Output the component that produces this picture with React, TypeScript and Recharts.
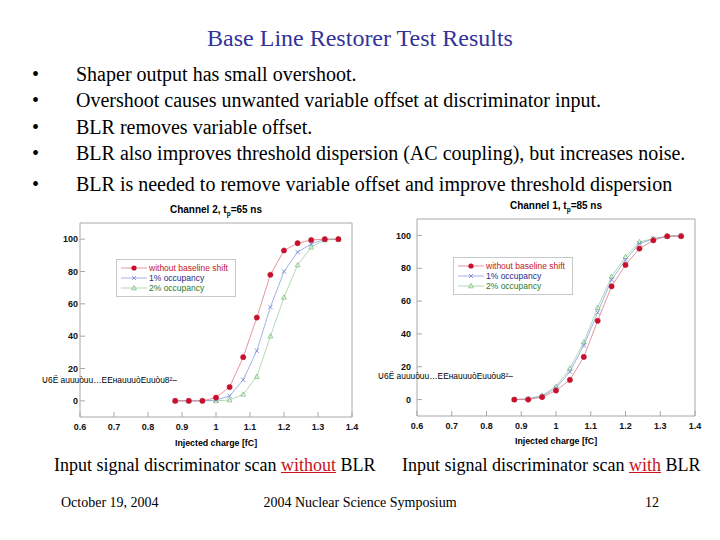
import React from "react";
import { LineChart, Line, XAxis, YAxis } from "recharts";

// injected charge [fC] for every scan point
const charges = [0.88, 0.92, 0.96, 1.0, 1.04, 1.08, 1.12, 1.16, 1.2, 1.24, 1.28, 1.32, 1.36];

// Channel 2, tp = 65 ns (without BLR)
const ch2Without = [0, 0, 0, 2, 8.5, 27, 51.5, 78, 93, 97.5, 99.5, 100, 100];
const ch2Occ1 = [0, 0, 0, 0.5, 3, 13, 31, 58, 80, 92, 97, 100, 100];
const ch2Occ2 = [0, 0, 0, 0, 0.5, 4, 15, 40, 64, 84, 95, 99.5, 100];

// Channel 1, tp = 85 ns (with BLR)
const ch1Without = [0, 0, 1.5, 5.5, 12, 26, 48, 69, 82, 92, 97, 99.5, 99.5];
const ch1Occ1 = [0, 0.5, 2, 7, 17, 33, 53, 73, 85, 95, 98, 99.5, 100];
const ch1Occ2 = [0, 0.5, 2.5, 8, 19, 35, 56, 75, 87, 96, 98, 99.5, 100];

const xTicks = [0.6, 0.7, 0.8, 0.9, 1.0, 1.1, 1.2, 1.3, 1.4];
const xMinor = [0.62, 0.64, 0.66, 0.68, 0.72, 0.74, 0.76, 0.78, 0.82, 0.84, 0.86, 0.88, 0.92, 0.94, 0.96, 0.98, 1.02, 1.04, 1.06, 1.08, 1.12, 1.14, 1.16, 1.18, 1.22, 1.24, 1.26, 1.28, 1.32, 1.34, 1.36, 1.38];
const yTicks = [0, 20, 40, 60, 80, 100];
const yMinor = [-5, 5, 10, 15, 25, 30, 35, 45, 50, 55, 65, 70, 75, 85, 90, 95, 105];

const RED = "#c8102e";
const RED_LINE = "#e07a80";
const BLUE_LINE = "#8b9ee0";
const GREEN_LINE = "#9fd09f";
const FRAME = "#a8a8a8";

const serif = "'Liberation Serif', 'Times New Roman', serif";
const sans = "'Liberation Sans', Arial, sans-serif";

const RedDot = (p: any) =>
  p.cx == null ? null : <circle key={`r${p.index}`} cx={p.cx} cy={p.cy} r={2.6} fill={RED} stroke={RED} strokeWidth={0.6} />;

const CrossDot = (p: any) =>
  p.cx == null ? null : (
    <g key={`c${p.index}`} stroke="#6f82d0" strokeWidth={0.8}>
      <line x1={p.cx - 2.2} y1={p.cy - 2.2} x2={p.cx + 2.2} y2={p.cy + 2.2} />
      <line x1={p.cx - 2.2} y1={p.cy + 2.2} x2={p.cx + 2.2} y2={p.cy - 2.2} />
    </g>
  );

const TriDot = (p: any) =>
  p.cx == null ? null : (
    <polygon
      key={`t${p.index}`}
      points={`${p.cx},${p.cy - 2.6} ${p.cx - 2.4},${p.cy + 1.8} ${p.cx + 2.4},${p.cy + 1.8}`}
      fill="none"
      stroke="#7cbf7c"
      strokeWidth={0.8}
    />
  );

const tickStyle = { fontFamily: sans, fontSize: 9, fontWeight: 700, fill: "#111" };

function Legend({ left, top }: { left: number; top: number }) {
  const row = (color: string, marker: React.ReactNode, label: string, textColor: string) => (
    <div style={{ display: "flex", alignItems: "center", height: 10 }}>
      <svg width={26} height={10} style={{ marginRight: 2 }}>
        <line x1={0} y1={5} x2={26} y2={5} stroke={color} strokeWidth={0.8} />
        {marker}
      </svg>
      <span style={{ color: textColor, fontFamily: sans, fontSize: 8.5, whiteSpace: "nowrap" }}>{label}</span>
    </div>
  );
  return (
    <div
      style={{
        position: "absolute",
        left,
        top,
        border: "1px solid #c8c8c8",
        background: "#fff",
        padding: "3px 7px 3px 4px",
      }}
    >
      {row(RED_LINE, <circle cx={13} cy={5} r={2.6} fill={RED} />, "without baseline shift", "#c01828")}
      {row(
        BLUE_LINE,
        <g stroke="#6f82d0" strokeWidth={0.8}>
          <line x1={11} y1={3} x2={15} y2={7} />
          <line x1={11} y1={7} x2={15} y2={3} />
        </g>,
        "1% occupancy",
        "#1c2a90"
      )}
      {row(
        GREEN_LINE,
        <polygon points="13,2.4 10.6,6.8 15.4,6.8" fill="none" stroke="#7cbf7c" strokeWidth={0.8} />,
        "2% occupancy",
        "#2a7a2a"
      )}
    </div>
  );
}

type PanelProps = {
  left: number;
  top: number;
  margin: { top: number; right: number; bottom: number; left: number };
  yTickMargin: number;
  without: number[];
  occ1: number[];
  occ2: number[];
  channel: string;
  tp: string;
  titleTop: number;
  labelTop: number;
  yLabelLeft: number;
  yLabelTop: number;
  legendLeft: number;
  legendTop: number;
};

function Panel(props: PanelProps) {
  const { left, top, margin, without, occ1, occ2 } = props;
  const width = 340;
  const height = 255;
  const data = charges.map((q, i) => ({ q, without: without[i], occ1: occ1[i], occ2: occ2[i] }));
  const plotLeft = margin.left + 2;
  const plotW = width - margin.left - margin.right - 4;

  return (
    <div style={{ position: "absolute", left, top, width, height }}>
      <LineChart width={width} height={height} data={data} margin={margin}>
        <XAxis
          xAxisId="x"
          dataKey="q"
          type="number"
          domain={[0.6, 1.4]}
          ticks={xTicks}
          tickFormatter={(v: number) => (v === 1 ? "1" : String(v))}
          height={1}
          tickSize={-5}
          tickMargin={11.5}
          tick={tickStyle}
          axisLine={{ stroke: FRAME }}
          tickLine={{ stroke: FRAME }}
          interval={0}
          allowDataOverflow
        />
        <XAxis xAxisId="xt" orientation="top" type="number" domain={[0.6, 1.4]} ticks={xTicks} height={1} tickSize={-5} tick={false} axisLine={{ stroke: FRAME }} tickLine={{ stroke: FRAME }} interval={0} />
        <XAxis xAxisId="xm" type="number" domain={[0.6, 1.4]} ticks={xMinor} height={1} tickSize={-2.5} tick={false} axisLine={false} tickLine={{ stroke: FRAME }} interval={0} />
        <XAxis xAxisId="xtm" orientation="top" type="number" domain={[0.6, 1.4]} ticks={xMinor} height={1} tickSize={-2.5} tick={false} axisLine={false} tickLine={{ stroke: FRAME }} interval={0} />
        <YAxis
          yAxisId="y"
          type="number"
          domain={[-10, 110]}
          ticks={yTicks}
          width={1}
          tickSize={-5}
          tickMargin={props.yTickMargin}
          tick={tickStyle}
          axisLine={{ stroke: FRAME }}
          tickLine={{ stroke: FRAME }}
          interval={0}
          allowDataOverflow
        />
        <YAxis yAxisId="yr" orientation="right" type="number" domain={[-10, 110]} ticks={yTicks} width={1} tickSize={-5} tick={false} axisLine={{ stroke: FRAME }} tickLine={{ stroke: FRAME }} interval={0} />
        <YAxis yAxisId="ym" type="number" domain={[-10, 110]} ticks={yMinor} width={1} tickSize={-2.5} tick={false} axisLine={false} tickLine={{ stroke: FRAME }} interval={0} />
        <YAxis yAxisId="yrm" orientation="right" type="number" domain={[-10, 110]} ticks={yMinor} width={1} tickSize={-2.5} tick={false} axisLine={false} tickLine={{ stroke: FRAME }} interval={0} />
        <Line xAxisId="x" yAxisId="y" type="linear" dataKey="occ2" stroke={GREEN_LINE} strokeWidth={0.8} dot={TriDot} isAnimationActive={false} />
        <Line xAxisId="x" yAxisId="y" type="linear" dataKey="occ1" stroke={BLUE_LINE} strokeWidth={0.8} dot={CrossDot} isAnimationActive={false} />
        <Line xAxisId="x" yAxisId="y" type="linear" dataKey="without" stroke={RED_LINE} strokeWidth={0.8} dot={RedDot} isAnimationActive={false} />
      </LineChart>
      <div
        style={{
          position: "absolute",
          left: plotLeft,
          width: plotW,
          top: props.titleTop,
          textAlign: "center",
          fontFamily: sans,
          fontWeight: 700,
          fontSize: 10,
          lineHeight: "11px",
        }}
      >
        {props.channel}, t<sub style={{ fontSize: 6.5 }}>p</sub>={props.tp} ns
      </div>
      <div
        style={{
          position: "absolute",
          left: plotLeft,
          width: plotW,
          top: props.labelTop,
          textAlign: "center",
          fontFamily: sans,
          fontWeight: 700,
          fontSize: 8.8,
          lineHeight: "10px",
        }}
      >
        Injected charge [fC]
      </div>
      <div
        style={{
          position: "absolute",
          left: props.yLabelLeft,
          top: props.yLabelTop,
          fontFamily: sans,
          fontSize: 8.4,
          lineHeight: "9px",
          whiteSpace: "nowrap",
        }}
      >
        Ս6Ë auuuòuu…EEнauuuòEuuòu8²–
      </div>
      <Legend left={props.legendLeft} top={props.legendTop} />
    </div>
  );
}

const bullets = [
  "Shaper output has small overshoot.",
  "Overshoot causes unwanted variable offset at discriminator input.",
  "BLR removes variable offset.",
  "BLR also improves threshold dispersion (AC coupling), but increases noise.",
];

export default function App() {
  const text = (s: React.CSSProperties): React.CSSProperties => ({
    position: "absolute",
    fontFamily: serif,
    whiteSpace: "nowrap",
    lineHeight: 1,
    ...s,
  });
  return (
    <div style={{ position: "fixed", left: 0, top: 0, width: 720, height: 540, background: "#fff", overflow: "hidden" }}>
      <div style={text({ left: 0, width: 720, top: 26, textAlign: "center", fontSize: 24, color: "#333399" })}>
        Base Line Restorer Test Results
      </div>
      {bullets.map((b, i) => (
        <React.Fragment key={b}>
          <div style={text({ left: 32, top: 64 + i * 26.3, fontSize: 20 })}>•</div>
          <div style={text({ left: 76, top: 64 + i * 26.3, fontSize: 20 })}>{b}</div>
        </React.Fragment>
      ))}
      <div style={text({ left: 32, top: 174, fontSize: 20 })}>•</div>
      <div style={text({ left: 76, top: 174, fontSize: 20 })}>
        BLR is needed to remove variable offset and improve threshold dispersion
      </div>

      <Panel
        left={30}
        top={195}
        margin={{ top: 26, right: 16, bottom: 31, left: 48 }}
        yTickMargin={7}
        without={ch2Without}
        occ1={ch2Occ1}
        occ2={ch2Occ2}
        channel="Channel 2"
        tp="65"
        titleTop={9}
        labelTop={243}
        yLabelLeft={12}
        yLabelTop={181}
        legendLeft={86}
        legendTop={64}
      />
      <Panel
        left={370}
        top={195}
        margin={{ top: 22, right: 13, bottom: 32, left: 45 }}
        yTickMargin={11}
        without={ch1Without}
        occ1={ch1Occ1}
        occ2={ch1Occ2}
        channel="Channel 1"
        tp="85"
        titleTop={5}
        labelTop={241}
        yLabelLeft={8}
        yLabelTop={177}
        legendLeft={83}
        legendTop={62}
      />

      <div style={text({ left: 54, top: 456, fontSize: 18 })}>
        Input signal discriminator scan <span style={{ color: "#cc1122", textDecoration: "underline" }}>without</span> BLR
      </div>
      <div style={text({ left: 402, top: 456, fontSize: 18 })}>
        Input signal discriminator scan <span style={{ color: "#cc1122", textDecoration: "underline" }}>with</span> BLR
      </div>

      <div style={text({ left: 61, top: 496, fontSize: 14 })}>October 19, 2004</div>
      <div style={text({ left: 0, width: 720, top: 496, fontSize: 14, textAlign: "center" })}>
        2004 Nuclear Science Symposium
      </div>
      <div style={text({ left: 645, top: 496, fontSize: 14 })}>12</div>
    </div>
  );
}
